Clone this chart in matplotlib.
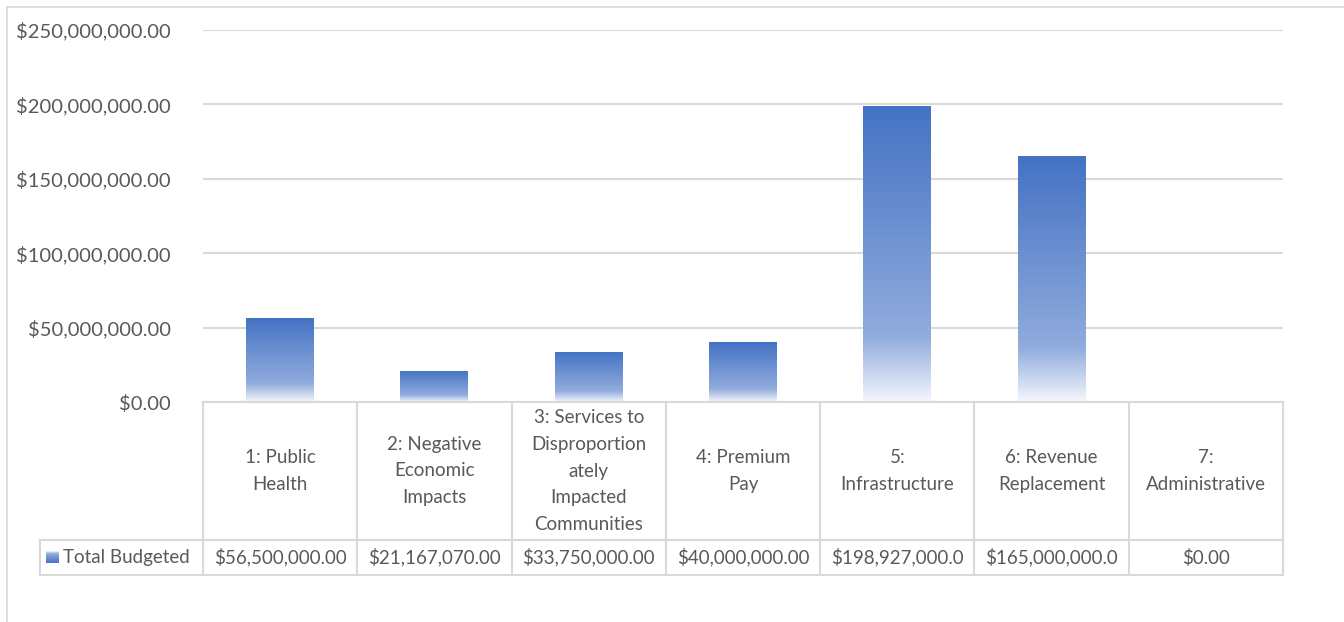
import matplotlib
matplotlib.use("Agg")
import matplotlib.pyplot as plt
import numpy as np
from matplotlib.colors import LinearSegmentedColormap
from matplotlib.patches import Rectangle

# Dane
categories = ["1: Public\nHealth",
              "2: Negative\nEconomic\nImpacts",
              "3: Services to\nDisproportion\nately\nImpacted\nCommunities",
              "4: Premium\nPay",
              "5:\nInfrastructure",
              "6: Revenue\nReplacement",
              "7:\nAdministrative"]
values = [56500000, 21167070, 33750000, 40000000, 198927000, 165000000, 0]
series_name = "Total Budgeted"
yticks = [0, 50e6, 100e6, 150e6, 200e6, 250e6]

plt.rcParams['font.family'] = ['Lato', 'DejaVu Sans']
txt_color = '#595959'
line_color = '#D9D9D9'

W, H = 1344, 622
fig = plt.figure(figsize=(W / 100, H / 100), dpi=100)

# Ramka wykresu
fig.add_artist(plt.Line2D([7 / W, 7 / W], [0, 1 - 7 / H], color=line_color, lw=1.2))
fig.add_artist(plt.Line2D([7 / W, 1], [1 - 7 / H, 1 - 7 / H], color=line_color, lw=1.2))

x_left, x_right = 203, 1283
y_top, y_zero = 30, 402
ax = fig.add_axes([x_left / W, 1 - y_zero / H, (x_right - x_left) / W, (y_zero - y_top) / H])

n = len(categories)
x = np.arange(n)
ax.set_xlim(-0.5, n - 0.5)
ax.set_ylim(0, 250e6)

cmap = LinearSegmentedColormap.from_list(
    "grad", [(0.0, '#F4F6FC'), (0.22, '#91ACDD'), (1.0, '#4472C4')])
grad = np.linspace(0, 1, 256).reshape(-1, 1)

bars = ax.bar(x, values, width=0.44, color='none', edgecolor='none', zorder=2)
for b, v in zip(bars, values):
    if v <= 0:
        continue
    im = ax.imshow(grad, cmap=cmap, aspect='auto', origin='lower',
                   extent=(b.get_x(), b.get_x() + b.get_width(), 0, v), zorder=2)
    im.set_clip_path(b)

ax.set_yticks(yticks)
ax.set_yticklabels([f"${t:,.2f}" for t in yticks])
ax.tick_params(axis='y', length=0, pad=23, labelsize=14.5, labelcolor=txt_color)
ax.tick_params(axis='x', length=0, labelbottom=False)
ax.yaxis.grid(True, color=line_color, lw=1.5, zorder=0)
ax.set_axisbelow(True)
for s in ax.spines.values():
    s.set_visible(False)

# Tabela danych pod wykresem
cell_w = (x_right - x_left) / n
tab_left, tab_bottom = 40, 575
header_h, row_h = 138, 35
tab = fig.add_axes([tab_left / W, 1 - tab_bottom / H, (x_right - tab_left) / W, (tab_bottom - y_zero) / H])
left_edge = -0.5 - (x_left - tab_left) / cell_w
tab.set_xlim(left_edge, n - 0.5)
tab.set_ylim(header_h + row_h, 0)
tab.axis('off')

lkw = dict(color=line_color, lw=1.5, clip_on=False)
tab.plot([-0.5, n - 0.5], [0, 0], **lkw)
tab.plot([left_edge, n - 0.5], [header_h, header_h], **lkw)
tab.plot([left_edge, n - 0.5], [header_h + row_h, header_h + row_h], **lkw)
tab.plot([left_edge, left_edge], [header_h, header_h + row_h], **lkw)
for i in range(n + 1):
    tab.plot([i - 0.5, i - 0.5], [0, header_h + row_h], **lkw)

for i, (c, v) in enumerate(zip(categories, values)):
    tab.text(i, header_h / 2, c, ha='center', va='center', fontsize=13.5,
             color=txt_color, linespacing=1.7)
    label = f"${v:,.2f}"[:14]
    tab.text(i, header_h + row_h / 2, label, ha='center', va='center',
             fontsize=13.5, color=txt_color)

# Legenda w tabeli
key_w = 13 / cell_w
kx = left_edge + 6 / cell_w
key = Rectangle((kx, header_h + 11), key_w, 12, facecolor='none', edgecolor='none')
tab.add_patch(key)
kim = tab.imshow(grad, cmap=cmap, aspect='auto', origin='upper',
                 extent=(kx, kx + key_w, header_h + 23, header_h + 11))
kim.set_clip_path(key)
tab.set_xlim(left_edge, n - 0.5)
tab.set_ylim(header_h + row_h, 0)
tab.text(kx + key_w + 4 / cell_w, header_h + row_h / 2, series_name, ha='left',
         va='center', fontsize=13.5, color=txt_color)

fig.savefig("out.png", dpi=100)
